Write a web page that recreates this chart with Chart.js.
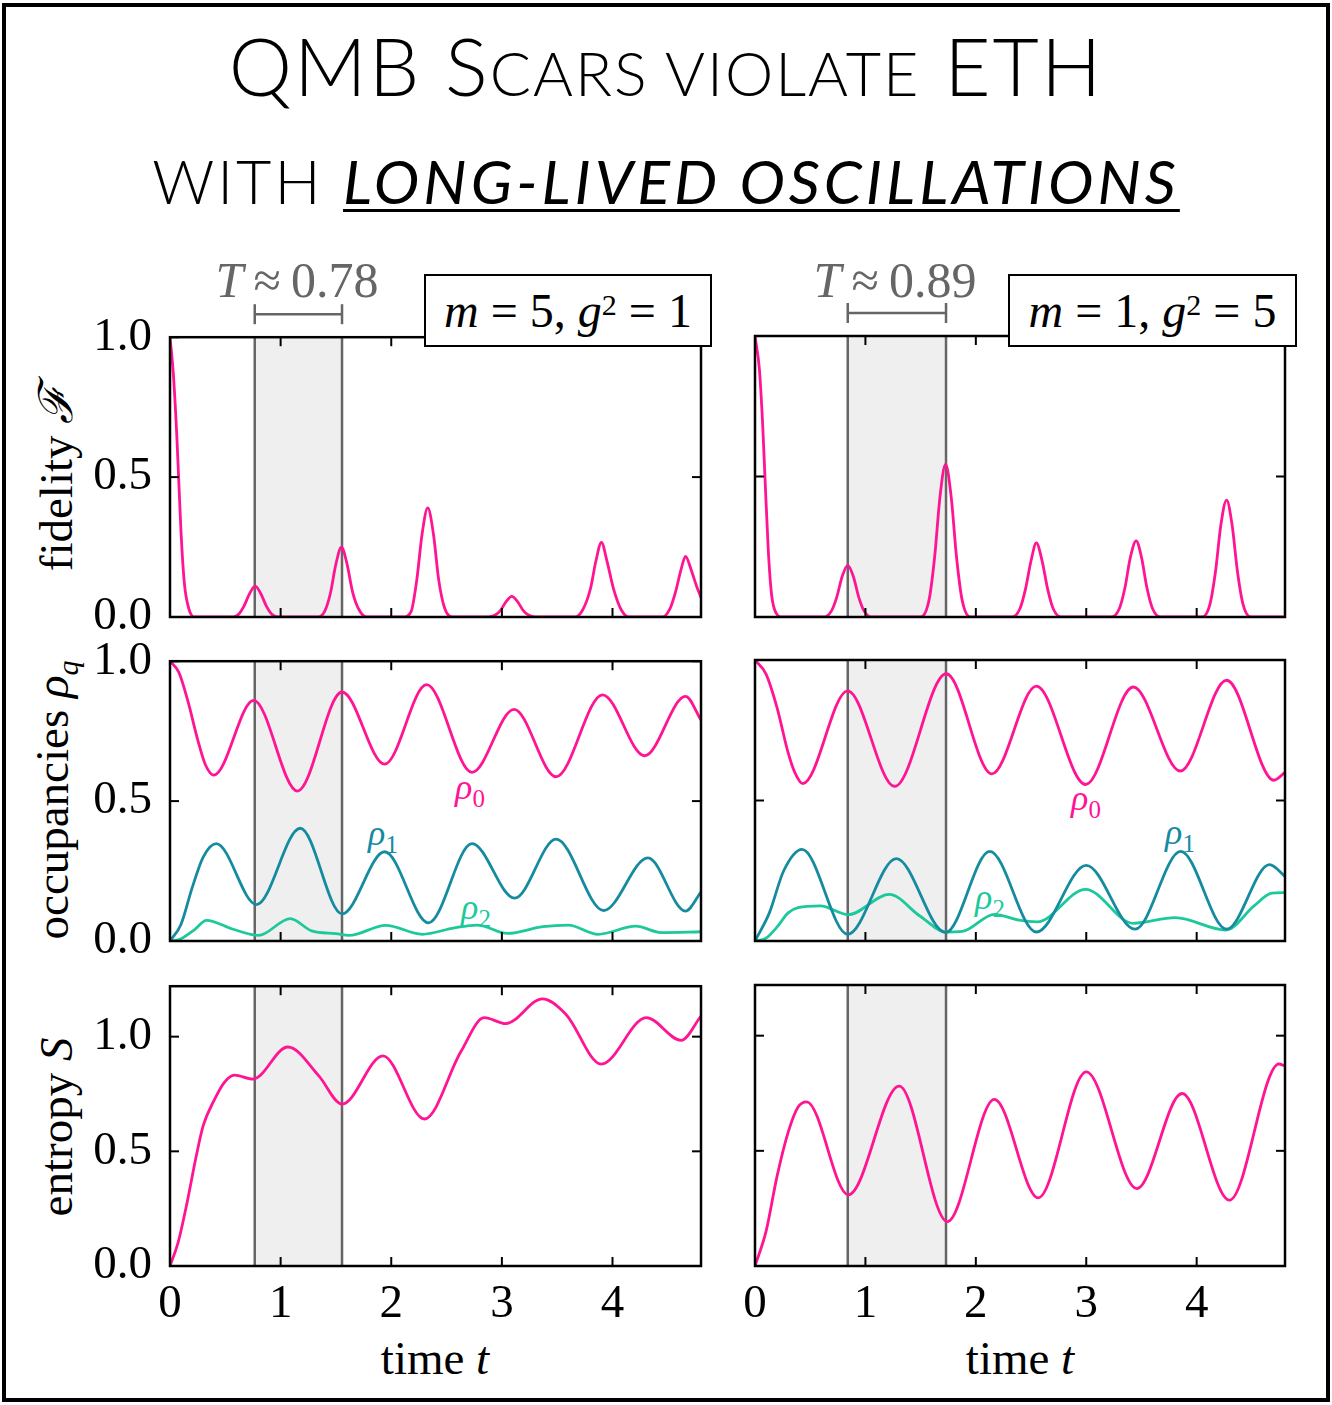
<!DOCTYPE html>
<html>
<head>
<meta charset="utf-8">
<script src="https://cdn.jsdelivr.net/npm/chart.js@4.4.0/dist/chart.umd.min.js"></script>
<style>
body{margin:0;background:#fff;}
#page{position:relative;width:1332px;height:1405px;overflow:hidden;background:#fff;}
#frame{position:absolute;left:2px;top:3px;width:1320px;height:1391px;border:4px solid #000;}
canvas{position:absolute;}
.ttl{position:absolute;left:0;width:1332px;text-align:center;font-family:Lato,sans-serif;font-weight:300;font-size:80px;line-height:80px;color:#000;white-space:nowrap;}
.sc{font-size:61px;}
.l1{letter-spacing:2px;}
.l2{letter-spacing:3px;}
.ul{font-weight:400;font-style:italic;text-decoration:underline;text-decoration-thickness:3px;text-underline-offset:5px;letter-spacing:4px;}
.serif{position:absolute;font-family:'Liberation Serif',serif;white-space:nowrap;color:#000;line-height:1;}
.ylab{transform:translate(-50%,-50%) rotate(-90deg);font-size:47px;}
.box{position:absolute;background:#fff;border:2.5px solid #000;box-sizing:border-box;font-family:'Liberation Serif',serif;font-size:48px;display:flex;align-items:center;justify-content:center;white-space:nowrap;z-index:5;}
.rho{position:absolute;font-family:'Liberation Serif',serif;font-style:italic;font-size:36px;line-height:1;transform:translate(-50%,-50%);}
.rho sub{font-style:normal;font-size:25px;}
</style>
</head>
<body>
<div id="page">
  <div id="frame"></div>
  <div class="ttl l1" style="top:25px">QMB S<span class="sc">CARS VIOLATE</span> ETH</div>
  <div class="ttl l2" style="top:133px"><span class="sc">WITH <span class="ul">LONG-LIVED OSCILLATIONS</span></span></div>

  <div class="serif" style="left:297px;top:255px;transform:translateX(-50%);font-size:50px;color:#666"><i>T</i>&thinsp;≈&thinsp;0.78</div>
  <div class="serif" style="left:895px;top:255px;transform:translateX(-50%);font-size:50px;color:#666"><i>T</i>&thinsp;≈&thinsp;0.89</div>

  <div class="box" style="left:424px;top:274px;width:288px;height:73px"><i>m</i>&nbsp;=&nbsp;5,&nbsp;<i>g</i><sup style="font-size:30px;position:relative;top:-6px">2</sup>&nbsp;=&nbsp;1</div>
  <div class="box" style="left:1008px;top:274px;width:289px;height:73px"><i>m</i>&nbsp;=&nbsp;1,&nbsp;<i>g</i><sup style="font-size:30px;position:relative;top:-6px">2</sup>&nbsp;=&nbsp;5</div>

  <div class="serif ylab" style="left:56px;top:478px">fidelity <i>ℱ</i></div>
  <div class="serif ylab" style="left:56px;top:800px">occupancies <i>ρ<sub style="font-size:30px">q</sub></i></div>
  <div class="serif ylab" style="left:56px;top:1127px">entropy <i>S</i></div>

  <div class="serif" style="left:435px;top:1335px;transform:translateX(-50%);font-size:47px">time <i>t</i></div>
  <div class="serif" style="left:1020px;top:1335px;transform:translateX(-50%);font-size:47px">time <i>t</i></div>

  <div class="rho" style="left:470px;top:790px;color:#ff1493">ρ<sub>0</sub></div>
  <div class="rho" style="left:383px;top:836px;color:#158b9f">ρ<sub>1</sub></div>
  <div class="rho" style="left:476px;top:910px;color:#1dc99b">ρ<sub>2</sub></div>
  <div class="rho" style="left:1086px;top:801px;color:#ff1493">ρ<sub>0</sub></div>
  <div class="rho" style="left:1180px;top:835px;color:#158b9f">ρ<sub>1</sub></div>
  <div class="rho" style="left:990px;top:900px;color:#1dc99b">ρ<sub>2</sub></div>
</div>
<script>
const tTicks = [0, 1, 2, 3, 4];
const unitTicks = [0, 0.5, 1];
const xMax = 4.8;
const yMaxUnit = 1;
const yMaxEntropy = 1.22;
const periodL = [0.766, 1.555];
const periodR = [0.84, 1.73];

const pink = '#ff1493';
const teal = '#158b9f';
const green = '#1dc99b';

// fidelity, m=5 g^2=1
const fidL_t = [0, 0.03, 0.06, 0.08, 0.1, 0.13, 0.17, 0.22,
  0.57, 0.62, 0.67, 0.72, 0.77, 0.82, 0.87, 0.92, 0.98,
  1.34, 1.40, 1.45, 1.50, 1.55, 1.60, 1.65, 1.71, 1.78,
  2.11, 2.18, 2.23, 2.28, 2.33, 2.38, 2.43, 2.48, 2.55,
  2.88, 2.94, 2.99, 3.04, 3.09, 3.14, 3.19, 3.24, 3.30,
  3.66, 3.73, 3.80, 3.85, 3.90, 3.95, 4.01, 4.08, 4.15,
  4.45, 4.52, 4.57, 4.62, 4.66, 4.71, 4.76, 4.8];
const fidL_v = [1, 0.87, 0.66, 0.48, 0.3, 0.12, 0.03, 0,
  0, 0.01, 0.04, 0.084, 0.11, 0.084, 0.04, 0.01, 0,
  0, 0.022, 0.085, 0.19, 0.25, 0.19, 0.09, 0.025, 0,
  0, 0.02, 0.13, 0.30, 0.39, 0.30, 0.13, 0.035, 0,
  0, 0.007, 0.025, 0.056, 0.074, 0.056, 0.025, 0.007, 0,
  0, 0.025, 0.1, 0.2, 0.267, 0.2, 0.1, 0.025, 0,
  0, 0.03, 0.09, 0.17, 0.217, 0.17, 0.11, 0.07];

// fidelity, m=1 g^2=5
const fidR_t = [0, 0.04, 0.07, 0.09, 0.12, 0.15, 0.19, 0.25,
  0.62, 0.69, 0.74, 0.79, 0.84, 0.89, 0.94, 0.99, 1.06,
  1.50, 1.576, 1.626, 1.676, 1.726, 1.776, 1.826, 1.876, 1.95,
  2.33, 2.40, 2.45, 2.50, 2.548, 2.60, 2.65, 2.70, 2.77,
  3.23, 3.30, 3.35, 3.40, 3.452, 3.50, 3.55, 3.60, 3.67,
  4.05, 4.12, 4.17, 4.22, 4.271, 4.32, 4.37, 4.42, 4.49, 4.8];
const fidR_v = [1, 0.88, 0.68, 0.5, 0.24, 0.08, 0.015, 0,
  0, 0.02, 0.07, 0.145, 0.184, 0.145, 0.07, 0.02, 0,
  0, 0.06, 0.21, 0.43, 0.544, 0.43, 0.21, 0.06, 0,
  0, 0.03, 0.1, 0.2, 0.264, 0.2, 0.1, 0.03, 0,
  0, 0.03, 0.103, 0.213, 0.271, 0.213, 0.103, 0.03, 0,
  0, 0.045, 0.16, 0.33, 0.416, 0.33, 0.16, 0.045, 0, 0];

// occupancies, left
const rho0L_t = [0, 0.08, 0.16, 0.25, 0.32, 0.396, 0.756, 1.152, 1.555, 1.94, 2.32, 2.73, 3.11, 3.49, 3.91, 4.29, 4.66, 4.8];
const rho0L_v = [1, 0.96, 0.86, 0.72, 0.63, 0.593, 0.86, 0.536, 0.89, 0.632, 0.916, 0.603, 0.828, 0.587, 0.88, 0.662, 0.874, 0.79];
const rho1L_t = [0, 0.1, 0.2, 0.3, 0.418, 0.782, 1.178, 1.555, 1.94, 2.337, 2.73, 3.115, 3.49, 3.92, 4.32, 4.66, 4.8];
const rho1L_v = [0, 0.06, 0.19, 0.3, 0.348, 0.13, 0.403, 0.097, 0.319, 0.065, 0.348, 0.153, 0.364, 0.109, 0.297, 0.107, 0.175];
const rho2L_t = [0, 0.09, 0.22, 0.33, 0.57, 0.8, 1.088, 1.28, 1.5, 1.62, 1.95, 2.28, 2.57, 2.78, 3.05, 3.37, 3.6, 3.87, 4.21, 4.44, 4.8];
const rho2L_v = [0, 0.006, 0.04, 0.074, 0.042, 0.02, 0.08, 0.036, 0.026, 0.02, 0.056, 0.024, 0.047, 0.057, 0.027, 0.051, 0.057, 0.024, 0.053, 0.03, 0.033];

// occupancies, right
const rho0R_t = [0, 0.1, 0.2, 0.3, 0.36, 0.432, 0.839, 1.265, 1.732, 2.145, 2.548, 2.994, 3.426, 3.852, 4.271, 4.7, 4.8];
const rho0R_v = [1, 0.95, 0.83, 0.67, 0.6, 0.56, 0.89, 0.55, 0.951, 0.595, 0.907, 0.557, 0.904, 0.605, 0.928, 0.572, 0.6];
const rho1R_t = [0, 0.13, 0.26, 0.426, 0.839, 1.28, 1.726, 2.126, 2.548, 3.0, 3.442, 3.855, 4.271, 4.66, 4.8];
const rho1R_v = [0, 0.1, 0.25, 0.326, 0.024, 0.293, 0.03, 0.319, 0.032, 0.269, 0.042, 0.319, 0.042, 0.272, 0.23];
const rho2R_t = [0, 0.1, 0.2, 0.3, 0.39, 0.59, 0.845, 1.216, 1.49, 1.732, 1.877, 2.168, 2.39, 2.555, 2.994, 3.426, 3.806, 4.265, 4.52, 4.68, 4.8];
const rho2R_v = [0, 0.01, 0.05, 0.1, 0.119, 0.125, 0.094, 0.166, 0.09, 0.032, 0.034, 0.095, 0.074, 0.068, 0.184, 0.063, 0.083, 0.039, 0.125, 0.17, 0.172];

// entanglement entropy
const entL_t = [0, 0.074, 0.155, 0.235, 0.3, 0.396, 0.49, 0.583, 0.75, 1.065, 1.345, 1.555, 1.925, 2.30, 2.63, 2.84, 3.035, 3.367, 3.58, 3.898, 4.306, 4.62, 4.8];
const entL_v = [0, 0.104, 0.278, 0.474, 0.612, 0.72, 0.8, 0.832, 0.815, 0.955, 0.829, 0.706, 0.916, 0.641, 0.935, 1.083, 1.057, 1.165, 1.097, 0.88, 1.083, 0.984, 1.09];
const entR_t = [0, 0.1, 0.2, 0.3, 0.39, 0.468, 0.845, 1.306, 1.742, 2.168, 2.565, 3.0, 3.458, 3.868, 4.297, 4.745, 4.8];
const entR_v = [0, 0.15, 0.39, 0.58, 0.69, 0.713, 0.309, 0.781, 0.193, 0.723, 0.296, 0.843, 0.336, 0.749, 0.286, 0.877, 0.868];

const tickFont = {family: 'Liberation Serif', size: 47};

function pts(t, v) {
  return t.map((x, i) => ({x: x, y: v[i]}));
}

function deco(cfg) {
  return {
    id: 'deco',
    beforeDatasetsDraw(chart) {
      const ctx = chart.ctx, a = chart.chartArea, x = chart.scales.x;
      const x0 = x.getPixelForValue(cfg.band[0]), x1 = x.getPixelForValue(cfg.band[1]);
      ctx.save();
      ctx.fillStyle = '#efefef';
      ctx.fillRect(x0, a.top, x1 - x0, a.bottom - a.top);
      ctx.strokeStyle = '#666';
      ctx.lineWidth = 2.5;
      [x0, x1].forEach(px => {
        ctx.beginPath(); ctx.moveTo(px, a.top); ctx.lineTo(px, a.bottom); ctx.stroke();
      });
      ctx.restore();
    },
    afterDraw(chart) {
      const ctx = chart.ctx, a = chart.chartArea, x = chart.scales.x, y = chart.scales.y;
      const line = (x0, y0, x1, y1) => { ctx.beginPath(); ctx.moveTo(x0, y0); ctx.lineTo(x1, y1); ctx.stroke(); };
      const L = 9;
      ctx.save();
      ctx.strokeStyle = '#000';
      ctx.lineWidth = 2;
      tTicks.forEach(v => {
        const px = x.getPixelForValue(v);
        line(px, a.bottom, px, a.bottom - L);
        line(px, a.top, px, a.top + L);
      });
      unitTicks.forEach(v => {
        const py = y.getPixelForValue(v);
        line(a.left, py, a.left + L, py);
        line(a.right, py, a.right - L, py);
      });
      ctx.lineWidth = 2.5;
      ctx.strokeRect(a.left, a.top, a.right - a.left, a.bottom - a.top);
      if (cfg.bracket) {
        const x0 = x.getPixelForValue(cfg.band[0]), x1 = x.getPixelForValue(cfg.band[1]);
        const yb = a.top - 23;
        ctx.strokeStyle = '#666';
        ctx.lineWidth = 2.5;
        line(x0, yb, x1, yb);
        line(x0, yb - 10, x0, yb + 10);
        line(x1, yb - 10, x1, yb + 10);
      }
      ctx.restore();
    }
  };
}

function panel(left, top, w, h, cfg) {
  const padL = 110, padR = 30, padT = 45, padB = cfg.xLabels ? 64 : 48;
  const cv = document.createElement('canvas');
  cv.width = w + padL + padR;
  cv.height = h + padT + padB;
  cv.style.left = (left - padL) + 'px';
  cv.style.top = (top - padT) + 'px';
  document.getElementById('page').appendChild(cv);

  return new Chart(cv, {
    type: 'line',
    data: {
      datasets: cfg.series.map(s => ({
        data: pts(s.t, s.v),
        borderColor: s.color,
        borderWidth: 2.8,
        pointRadius: 0,
        fill: false,
        cubicInterpolationMode: 'monotone'
      }))
    },
    options: {
      responsive: false,
      animation: false,
      events: [],
      layout: {padding: {left: 0, right: padR, top: padT, bottom: 0}},
      plugins: {legend: {display: false}, tooltip: {enabled: false}},
      scales: {
        x: {
          type: 'linear', min: 0, max: xMax,
          grid: {display: false, drawTicks: false},
          border: {display: false},
          afterBuildTicks: s => { s.ticks = tTicks.map(v => ({value: v})); },
          afterFit: s => { s.height = padB; },
          ticks: {display: cfg.xLabels, padding: 10, font: tickFont, color: '#000', maxRotation: 0,
                  callback: v => String(v)}
        },
        y: {
          type: 'linear', min: 0, max: cfg.yMax,
          grid: {display: false, drawTicks: false},
          border: {display: false},
          afterBuildTicks: s => { s.ticks = unitTicks.map(v => ({value: v})); },
          afterFit: s => { s.width = padL; },
          ticks: {display: cfg.yLabels, padding: 18, font: tickFont, color: '#000',
                  callback: v => v.toFixed(1)}
        }
      }
    },
    plugins: [deco(cfg)]
  });
}

const colL = 170, colR = 755, wL = 531, wR = 530, ph = 281;
const rowT = [336, 660, 985];

panel(colL, rowT[0], wL, ph, {band: periodL, bracket: true, yLabels: true, xLabels: false, yMax: yMaxUnit,
  series: [{t: fidL_t, v: fidL_v, color: pink}]});
panel(colR, rowT[0], wR, ph, {band: periodR, bracket: true, yLabels: false, xLabels: false, yMax: yMaxUnit,
  series: [{t: fidR_t, v: fidR_v, color: pink}]});
panel(colL, rowT[1], wL, ph, {band: periodL, yLabels: true, xLabels: false, yMax: yMaxUnit,
  series: [{t: rho0L_t, v: rho0L_v, color: pink}, {t: rho1L_t, v: rho1L_v, color: teal}, {t: rho2L_t, v: rho2L_v, color: green}]});
panel(colR, rowT[1], wR, ph, {band: periodR, yLabels: false, xLabels: false, yMax: yMaxUnit,
  series: [{t: rho0R_t, v: rho0R_v, color: pink}, {t: rho1R_t, v: rho1R_v, color: teal}, {t: rho2R_t, v: rho2R_v, color: green}]});
panel(colL, rowT[2], wL, ph, {band: periodL, yLabels: true, xLabels: true, yMax: yMaxEntropy,
  series: [{t: entL_t, v: entL_v, color: pink}]});
panel(colR, rowT[2], wR, ph, {band: periodR, yLabels: false, xLabels: true, yMax: yMaxEntropy,
  series: [{t: entR_t, v: entR_v, color: pink}]});
</script>
</body>
</html>
